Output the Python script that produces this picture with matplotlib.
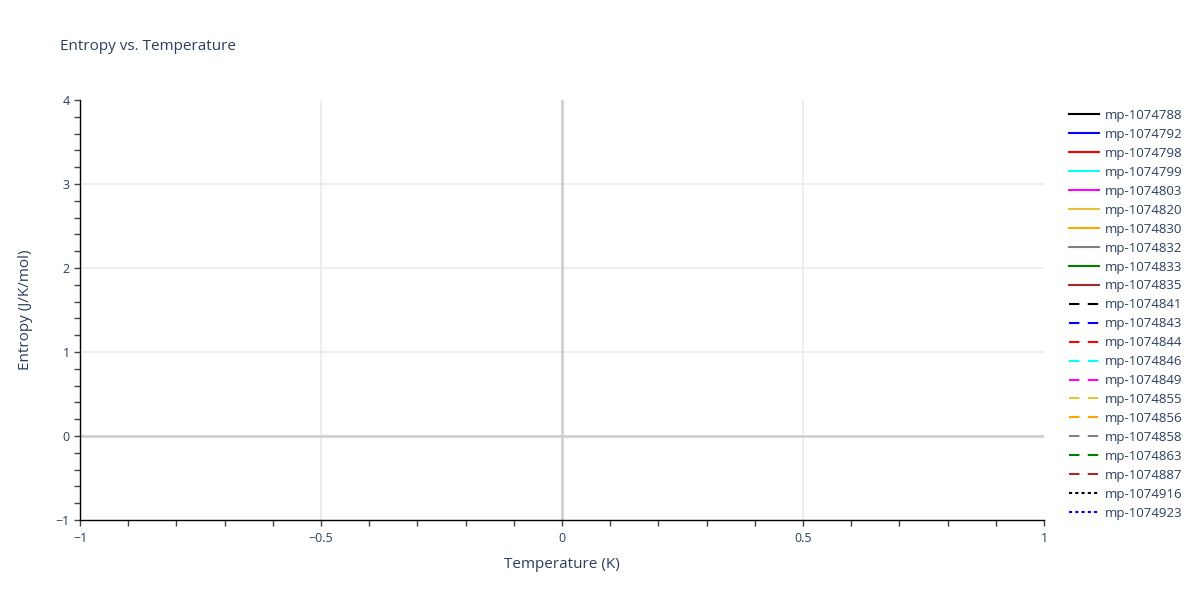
import numpy as np
import matplotlib
matplotlib.use("Agg")
import matplotlib.pyplot as plt
from matplotlib.lines import Line2D
from matplotlib.ticker import MultipleLocator, FuncFormatter

plt.rcParams['font.family'] = ['Open Sans', 'DejaVu Sans']

# series (no data points in the reference, only legend entries)
materials = ["mp-1074788", "mp-1074792", "mp-1074798", "mp-1074799", "mp-1074803",
             "mp-1074820", "mp-1074830", "mp-1074832", "mp-1074833", "mp-1074835",
             "mp-1074841", "mp-1074843", "mp-1074844", "mp-1074846", "mp-1074849",
             "mp-1074855", "mp-1074856", "mp-1074858", "mp-1074863", "mp-1074887",
             "mp-1074916", "mp-1074923"]
temps = [[] for _ in materials]
entropy = [[] for _ in materials]

palette = ["black", "blue", "red", "cyan", "magenta", "#e8c33a", "orange",
           "gray", "green", "brown"]
styles = ["-"] * 10 + [(0, (5, 4))] * 10 + [(0, (1.5, 1.5))] * 2

txt = "#2a3f5f"

fig = plt.figure(figsize=(12, 6), dpi=100)
ax = fig.add_axes([80 / 1200, 80 / 600, 964 / 1200, 420 / 600])

handles = []
for i, name in enumerate(materials):
    c = palette[i % 10]
    ax.plot(temps[i], entropy[i], color=c, linestyle=styles[i], lw=1.5, label=name)
    handles.append(Line2D([], [], color=c, linestyle=styles[i], lw=1.5))

ax.set_xlim(-1, 1)
ax.set_ylim(-1, 4)
ax.xaxis.set_major_locator(MultipleLocator(0.5))
ax.xaxis.set_minor_locator(MultipleLocator(0.1))
ax.yaxis.set_major_locator(MultipleLocator(1))
ax.yaxis.set_minor_locator(MultipleLocator(0.2))


def fmt(v, pos):
    s = ("%g" % round(v, 3))
    return s.replace("-", "\u2212")


ax.xaxis.set_major_formatter(FuncFormatter(fmt))
ax.yaxis.set_major_formatter(FuncFormatter(fmt))

ax.grid(True, which="major", color="#ebebeb", lw=1.2)
ax.axhline(0, color="#d0d0d0", lw=2, zorder=1)
ax.axvline(0, color="#d0d0d0", lw=2, zorder=1)
ax.set_axisbelow(True)

# no gridlines on the plot edges
fig.canvas.draw()
for tick, v in zip(ax.xaxis.get_major_ticks(), ax.get_xticks()):
    if abs(v - 1) < 1e-9 or abs(v + 1) < 1e-9:
        tick.gridline.set_visible(False)
for tick, v in zip(ax.yaxis.get_major_ticks(), ax.get_yticks()):
    if abs(v - 4) < 1e-9 or abs(v + 1) < 1e-9:
        tick.gridline.set_visible(False)

for s in ["top", "right"]:
    ax.spines[s].set_visible(False)
for s in ["left", "bottom"]:
    ax.spines[s].set_color("black")
    ax.spines[s].set_linewidth(1)

ax.tick_params(which="both", direction="out", length=4, width=1, color="#444444",
               labelcolor=txt, labelsize=9)
ax.tick_params(axis="x", pad=5)

ax.set_xlabel("Temperature (K)", color=txt, fontsize=11, labelpad=8)
ax.set_ylabel("Entropy (J/K/mol)", color=txt, fontsize=11, labelpad=16)
fig.text(60 / 1200, 1 - 46 / 600, "Entropy vs. Temperature", color=txt,
         fontsize=11, va="center", ha="left")

leg = fig.legend(handles, materials, loc="upper left",
                 bbox_to_anchor=(1069 / 1200, 1 - 109 / 600),
                 frameon=False, fontsize=9.5, handlelength=2.3, handletextpad=0.4,
                 labelspacing=0.45, borderaxespad=0, borderpad=0)
for t in leg.get_texts():
    t.set_color(txt)

fig.savefig("out.png", dpi=100)
